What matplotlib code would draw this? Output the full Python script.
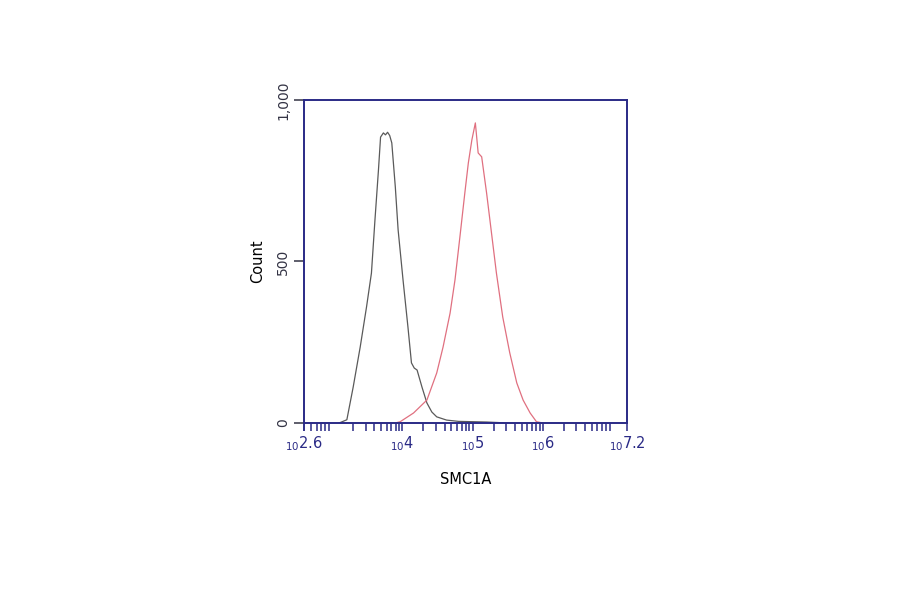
import matplotlib.pyplot as plt
import numpy as np
from matplotlib.ticker import FixedLocator, NullFormatter

# ------------------------------------------------------------
# data (log10 fluorescence, event count)
# ------------------------------------------------------------
control_log = [3.10, 3.21, 3.30, 3.40, 3.49, 3.56, 3.61, 3.66, 3.69, 3.73,
               3.76, 3.79, 3.82, 3.85, 3.90, 3.94, 4.01, 4.08, 4.13, 4.17,
               4.21, 4.28, 4.35, 4.42, 4.49, 4.63, 4.80, 5.00, 5.20, 5.50]
control_count = [0, 10, 111, 235, 359, 464, 628, 783, 885, 898,
                 892, 900, 890, 867, 731, 598, 443, 297, 186, 170,
                 164, 111, 62, 34, 19, 9, 5, 4, 3, 0]

smc1a_log = [3.90, 3.97, 4.16, 4.35, 4.49, 4.58, 4.68, 4.75, 4.82, 4.89,
             4.94, 4.99, 5.04, 5.08, 5.13, 5.20, 5.27, 5.34, 5.43, 5.53,
             5.63, 5.72, 5.82, 5.91, 6.00]
smc1a_count = [0, 4, 31, 71, 155, 235, 340, 443, 576, 712,
               805, 876, 929, 836, 824, 712, 588, 464, 328, 217,
               124, 71, 31, 4, 0]

x_tick_pos = [2.6, 4, 5, 6, 7.2]
x_tick_text = ["2.6", "4", "5", "6", "7.2"]
y_ticks = [0, 500, 1000]
y_tick_text = ["0", "500", "1,000"]

AXIS_BLUE = "#2a2a86"

fig = plt.figure(figsize=(9, 5.94), dpi=100)
ax = fig.add_axes([0.3378, 0.2879, 0.3589, 0.5438])

ax.plot(10 ** np.array(control_log), control_count, color="#5a5a5a", lw=0.9)
ax.plot(10 ** np.array(smc1a_log), smc1a_count, color="#e07080", lw=0.9)

ax.set_xscale("log")
ax.set_xlim(10 ** 2.6, 10 ** 7.2)
ax.set_ylim(0, 1000)

for sp in ax.spines.values():
    sp.set_color(AXIS_BLUE)
    sp.set_linewidth(1.4)

ax.xaxis.set_major_locator(FixedLocator([10 ** v for v in x_tick_pos]))
ax.set_xticklabels(["$_{10}$" + t for t in x_tick_text])
minor = [m * 10 ** d for d in range(2, 8) for m in range(2, 10)
         if 10 ** 2.6 <= m * 10 ** d <= 10 ** 7.2]
ax.xaxis.set_minor_locator(FixedLocator(minor))
ax.xaxis.set_minor_formatter(NullFormatter())
ax.tick_params(axis="x", which="both", direction="out", colors=AXIS_BLUE,
               length=6, width=1.1, labelsize=10.5, pad=2)

ax.set_yticks(y_ticks)
ax.set_yticklabels(y_tick_text, rotation=90, va="center")
ax.tick_params(axis="y", direction="out", colors="#333344", length=7,
               width=1.1, labelsize=10, pad=3)
for t in ax.get_yticklines():
    t.set_color(AXIS_BLUE)

ax.set_xlabel("SMC1A", fontsize=10.5, labelpad=14)
ax.set_ylabel("Count", fontsize=10.5, labelpad=8)

fig.savefig("out.png", dpi=100, facecolor="white")
